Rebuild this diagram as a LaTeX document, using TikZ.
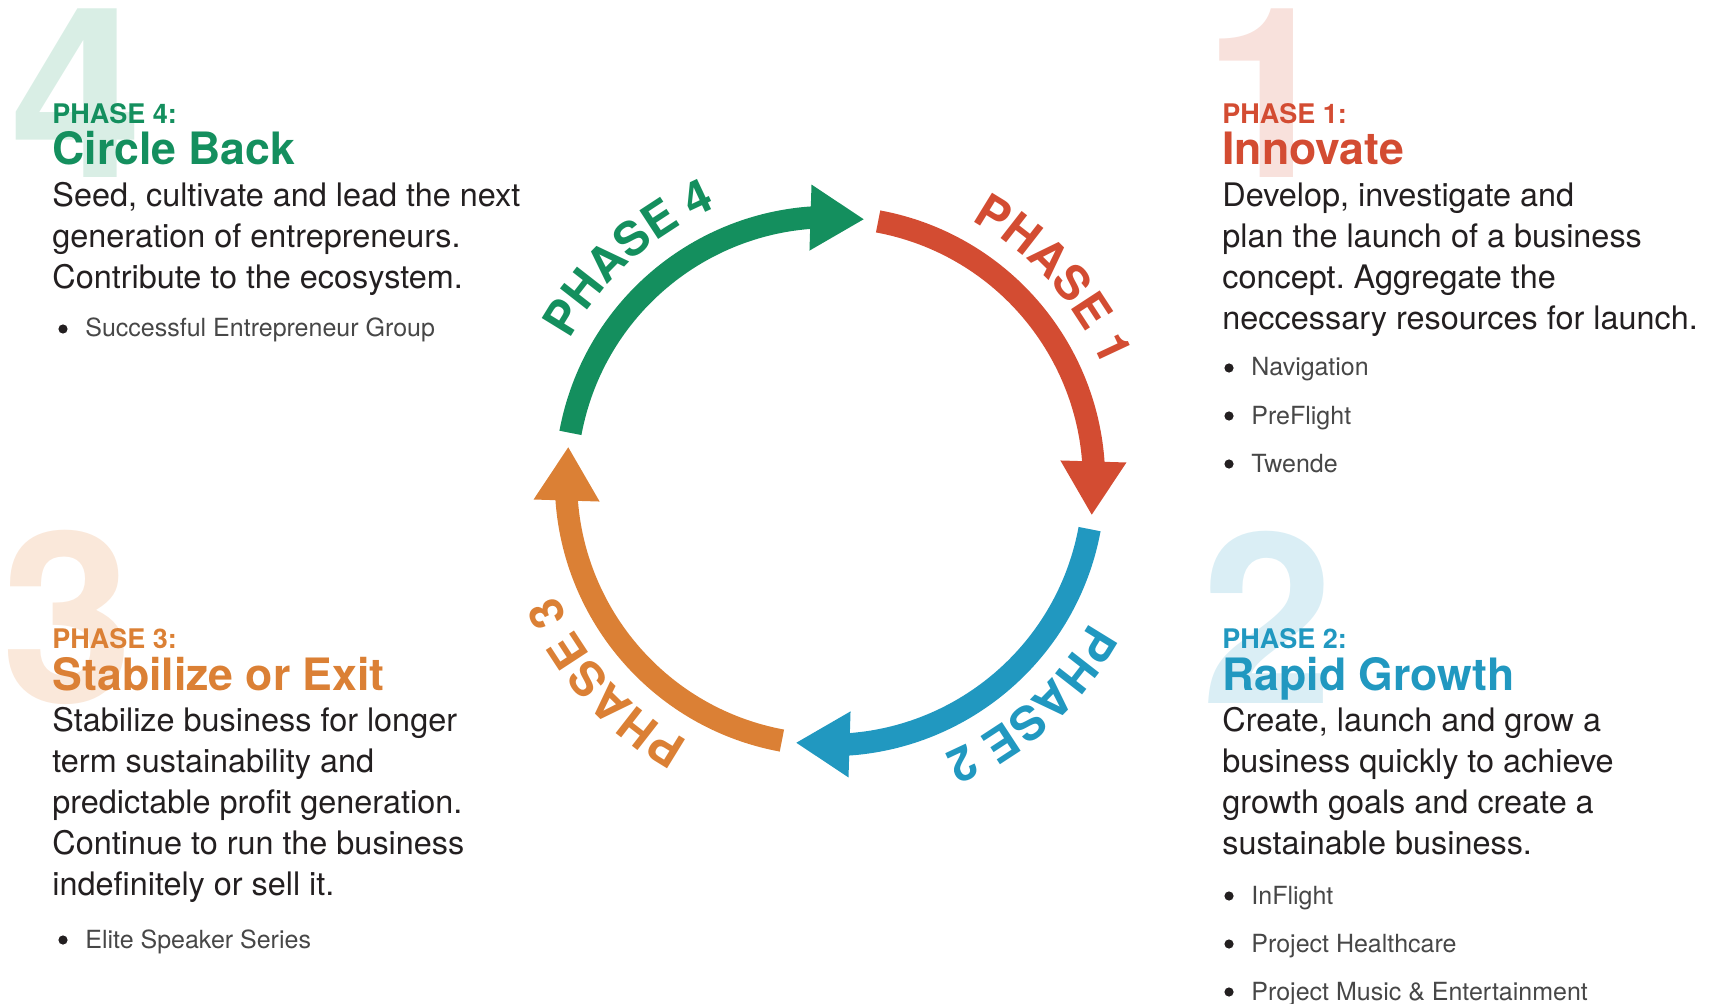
\documentclass[tikz,border=0pt]{standalone}
\usepackage{fontspec}
\setmainfont{TeX Gyre Heros}
\usetikzlibrary{arrows.meta,bending,decorations.text}
\frenchspacing

\definecolor{vertP}{HTML}{148F5E}
\definecolor{rougeP}{HTML}{D34C32}
\definecolor{bleuP}{HTML}{2198C0}
\definecolor{orangeP}{HTML}{DB8035}
\definecolor{vertC}{HTML}{D9EEE5}
\definecolor{rougeC}{HTML}{F8E1DC}
\definecolor{bleuC}{HTML}{DAEEF5}
\definecolor{orangeC}{HTML}{FAE8DA}
\definecolor{encre}{HTML}{231F20}

\begin{document}
\begin{tikzpicture}[x=0.5pt,y=0.5pt,
    chiffre/.style={anchor=base west,inner sep=0pt,font=\fontsize{119}{120}\selectfont\bfseries},
    phase/.style={anchor=base west,inner sep=0pt,font=\fontsize{13.5}{14}\selectfont\bfseries},
    titre/.style={anchor=base west,inner sep=0pt,font=\fontsize{22.3}{24}\selectfont\bfseries},
    corps/.style={anchor=base west,inner sep=0pt,text=encre,font=\fontsize{16.2}{18}\selectfont},
    puce/.style={anchor=base west,inner sep=0pt,text=black!72,font=\fontsize{12.5}{14}\selectfont},
    fleche/.style={line width=11.2pt,-{Triangle[length=27pt,width=31pt]}},
    etiquette/.style 2 args={decorate,decoration={text along path,text align=center,text color=#1,
        text={|\fontsize{23.5}{24}\selectfont\bfseries|#2}}}]
    \useasboundingbox (0,0) rectangle (1728,1003);

    % Grands chiffres en fond
    \node[chiffre,text=vertC] (g4) at (10,825) {4};
    \node[chiffre,text=rougeC] (g1) at (1203,825) {1};
    \node[chiffre,text=orangeC] (g3) at (1,301) {3};
    \node[chiffre,text=bleuC] (g2) at (1201,300) {2};

    % Cycle central
    \coordinate (C) at (830,522);
    \foreach \a/\c in {169.5/vertP,79.5/rougeP,-10.5/bleuP,-100.5/orangeP}
        \draw[fleche,\c] (C) ++(\a:264) arc[start angle=\a,delta angle=-87,radius=264];

    % Etiquettes le long du cercle
    \path[etiquette={vertP}{PHASE 4}] (C) ++(172:296) arc[start angle=172,delta angle=-80,radius=296];
    \path[etiquette={rougeP}{PHASE 1}] (C) ++(82:296) arc[start angle=82,delta angle=-80,radius=296];
    \path[etiquette={bleuP}{PHASE 2}] (C) ++(-8:296) arc[start angle=-8,delta angle=-80,radius=296];
    \path[etiquette={orangeP}{PHASE 3}] (C) ++(-98:296) arc[start angle=-98,delta angle=-80,radius=296];

    % Phase 4
    \node[phase,text=vertP] (p4) at (52,879) {PHASE 4:};
    \node[titre,text=vertP] (t4) at (52,838) {Circle Back};
    \foreach \ligne [count=\i] in {{Seed, cultivate and lead the next},{generation of entrepreneurs.},
        {Contribute to the ecosystem.}}
        \node[corps] (c4-\i) at (52,{837-41*\i}) {\ligne};
    \fill[encre] (63,674) circle (4.6);
    \node[puce] (l4-1) at (85,666) {Successful Entrepreneur Group};

    % Phase 1
    \node[phase,text=rougeP] (p1) at (1222,879) {PHASE 1:};
    \node[titre,text=rougeP] (t1) at (1222,838) {Innovate};
    \foreach \ligne [count=\i] in {{Develop, investigate and},{plan the launch of a business},
        {concept. Aggregate the},{neccessary resources for launch.}}
        \node[corps] (c1-\i) at (1222,{837-41*\i}) {\ligne};
    \foreach \ligne [count=\i] in {Navigation,PreFlight,Twende} {
        \fill[encre] (1229,{683-48*\i}) circle (4.6);
        \node[puce] (l1-\i) at (1251,{675-48*\i}) {\ligne};
    }

    % Phase 3
    \node[phase,text=orangeP] (p3) at (52,355) {PHASE 3:};
    \node[titre,text=orangeP] (t3) at (52,313) {Stabilize or Exit};
    \foreach \ligne [count=\i] in {{Stabilize business for longer},{term sustainability and},
        {predictable profit generation.},{Continue to run the business},{indefinitely or sell it.}}
        \node[corps] (c3-\i) at (52,{313-41*\i}) {\ligne};
    \fill[encre] (63,63) circle (4.6);
    \node[puce] (l3-1) at (85,55) {Elite Speaker Series};

    % Phase 2
    \node[phase,text=bleuP] (p2) at (1222,355) {PHASE 2:};
    \node[titre,text=bleuP] (t2) at (1222,313) {Rapid Growth};
    \foreach \ligne [count=\i] in {{Create, launch and grow a},{business quickly to achieve},
        {growth goals and create a},{sustainable business.}}
        \node[corps] (c2-\i) at (1222,{313-41*\i}) {\ligne};
    \foreach \ligne [count=\i] in {InFlight,Project Healthcare,Project Music \& Entertainment} {
        \fill[encre] (1229,{155-48*\i}) circle (4.6);
        \node[puce] (l2-\i) at (1251,{147-48*\i}) {\ligne};
    }
\end{tikzpicture}
\end{document}
